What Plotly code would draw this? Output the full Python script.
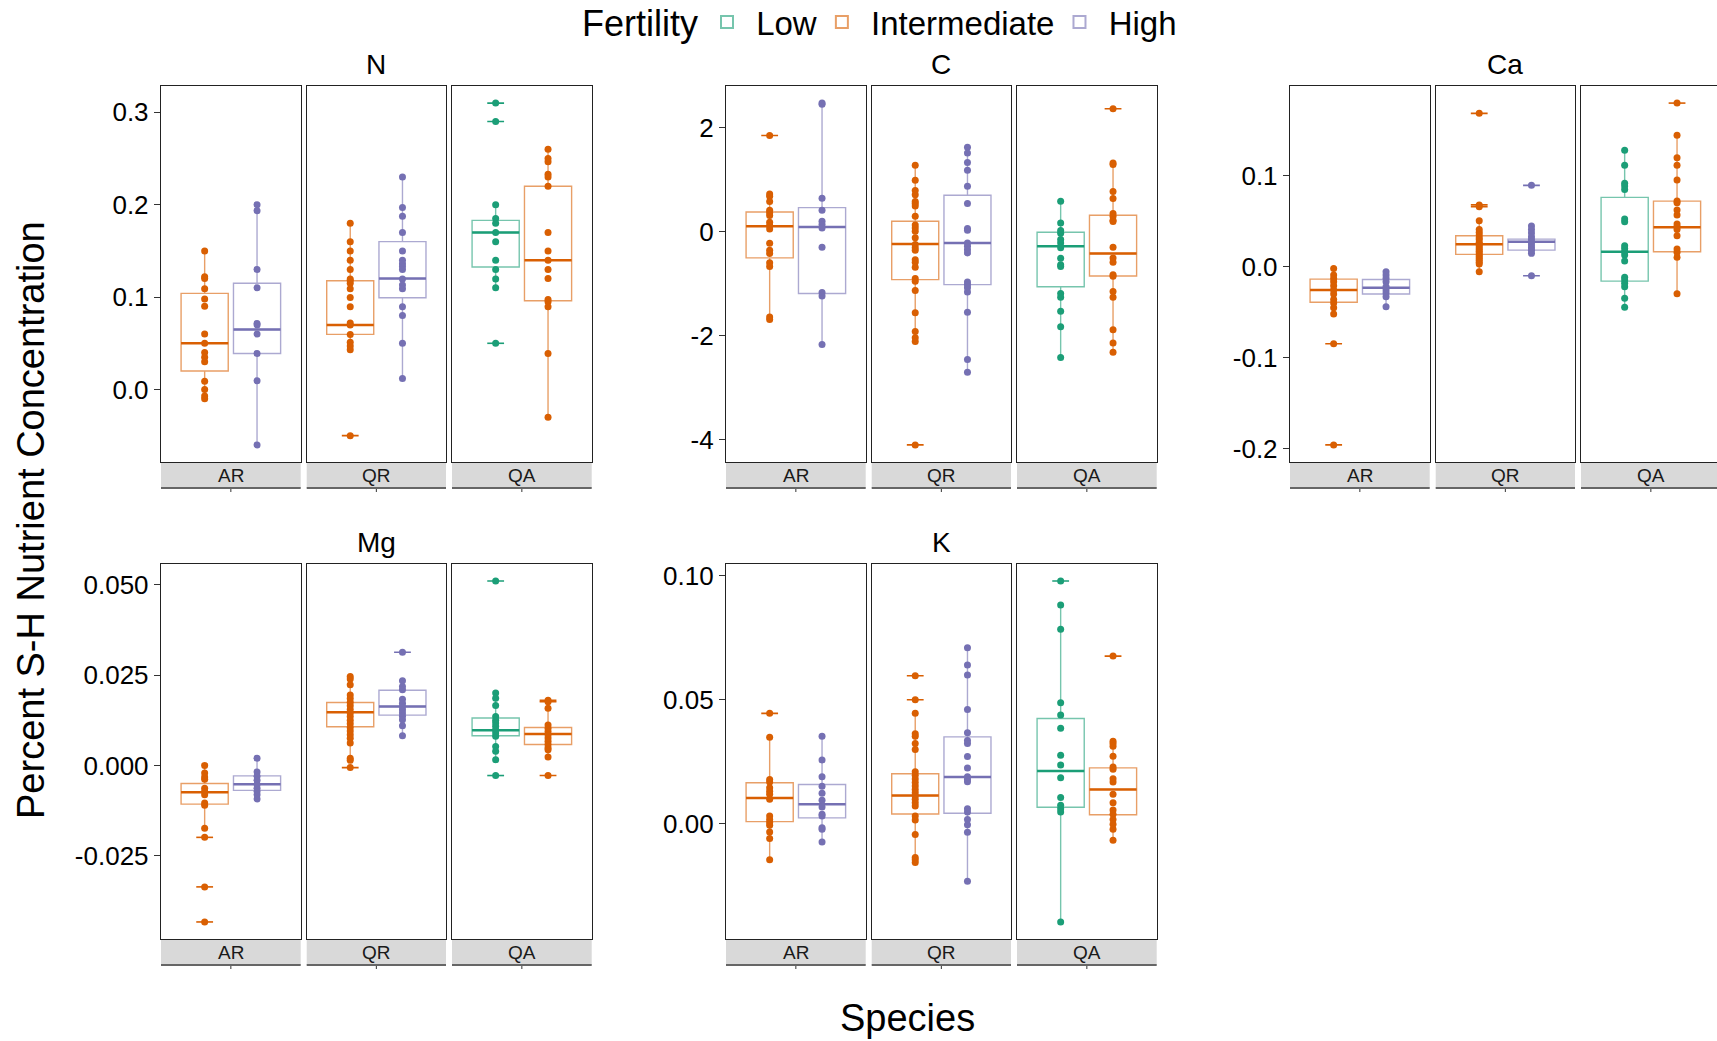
import plotly.graph_objects as go

# ---------------- DATA ----------------
nutrients = ["N", "C", "Ca", "Mg", "K"]
species = ["AR", "QR", "QA"]
fertility_levels = ["Low", "Intermediate", "High"]
species_fertility = {"AR": ["Intermediate", "High"], "QR": ["Intermediate", "High"], "QA": ["Low", "Intermediate"]}

# points; box = [lower whisker, q1, median, q3, upper whisker]
N_AR_I = [0.150, 0.122, 0.120, 0.109, 0.098, 0.090, 0.060, 0.050, 0.040, 0.035, 0.030, 0.009, 0.000, -0.007, -0.010]
N_AR_I_box = [-0.010, 0.020, 0.050, 0.104, 0.150]
N_AR_H = [0.200, 0.1935, 0.130, 0.110, 0.0715, 0.0697, 0.060, 0.039, 0.0094, -0.060]
N_AR_H_box = [-0.060, 0.039, 0.065, 0.115, 0.200]
N_QR_I = [0.180, 0.160, 0.150, 0.140, 0.130, 0.1195, 0.118, 0.115, 0.109, 0.0996, 0.0895, 0.072, 0.0697, 0.0596, 0.051, 0.047, 0.043, -0.050]
N_QR_I_box = [0.043, 0.0596, 0.0697, 0.1177, 0.180]
N_QR_H = [0.230, 0.197, 0.1874, 0.170, 0.150, 0.140, 0.136, 0.133, 0.130, 0.1195, 0.113, 0.109, 0.0895, 0.080, 0.050, 0.012]
N_QR_H_box = [0.012, 0.0993, 0.120, 0.160, 0.230]
N_QA_L = [0.310, 0.290, 0.200, 0.185, 0.180, 0.170, 0.160, 0.140, 0.130, 0.1195, 0.110, 0.050]
N_QA_L_box = [0.110, 0.1325, 0.170, 0.183, 0.200]
N_QA_I = [0.260, 0.250, 0.2466, 0.233, 0.230, 0.220, 0.170, 0.150, 0.140, 0.130, 0.120, 0.0975, 0.095, 0.0895, 0.039, -0.030]
N_QA_I_box = [-0.030, 0.096, 0.140, 0.220, 0.260]

C_AR_I = [1.846, 0.724, 0.68, 0.577, 0.41, 0.36, 0.31, 0.18, 0.115, 0.05, -0.224, -0.36, -0.42, -0.60, -0.67, -1.64, -1.69]
C_AR_I_box = [-1.69, -0.506, 0.103, 0.378, 0.724]
C_AR_H = [2.47, 2.45, 0.64, 0.41, 0.2, 0.135, 0.07, -0.30, -1.17, -1.24, -2.17]
C_AR_H_box = [-2.17, -1.19, 0.09, 0.46, 2.47]
C_QR_I = [1.276, 0.987, 0.79, 0.71, 0.58, 0.54, 0.49, 0.295, 0.128, 0.07, 0.006, -0.12, -0.25, -0.31, -0.36, -0.54,
          -0.59, -0.686, -0.90, -0.955, -1.13, -1.56, -1.92, -2.04, -2.11, -4.10]
C_QR_I_box = [-2.11, -0.923, -0.237, 0.200, 1.276]
C_QR_H = [1.62, 1.51, 1.33, 1.18, 0.87, 0.54, 0.058, 0.026, -0.22, -0.28, -0.35, -0.41, -0.97, -1.02, -1.08, -1.16, -1.55, -2.46, -2.705]
C_QR_H_box = [-2.705, -1.02, -0.218, 0.70, 1.62]
C_QA_L = [0.583, 0.167, 0.02, -0.03, -0.154, -0.22, -0.31, -0.51, -0.635, -0.67, -1.19, -1.26, -1.53, -1.83, -2.42]
C_QA_L_box = [-2.42, -1.06, -0.28, -0.013, 0.583]
C_QA_I = [2.36, 1.32, 1.29, 0.77, 0.635, 0.346, 0.295, 0.218, 0.192, -0.30, -0.506, -0.59, -0.83, -0.86, -1.15, -1.26, -1.885, -2.14, -2.32]
C_QA_I_box = [-2.32, -0.853, -0.42, 0.314, 1.32]

Ca_AR_I = [-0.002, -0.009, -0.013, -0.0165, -0.021, -0.0257, -0.030, -0.036, -0.040, -0.045, -0.052, -0.0847, -0.196]
Ca_AR_I_box = [-0.052, -0.039, -0.0257, -0.0136, -0.002]
Ca_AR_H = [-0.0055, -0.009, -0.0128, -0.0165, -0.022, -0.0257, -0.029, -0.033, -0.044]
Ca_AR_H_box = [-0.044, -0.030, -0.023, -0.014, -0.0055]
Ca_QR_I = [0.1687, 0.068, 0.066, 0.0506, 0.041, 0.038, 0.035, 0.032, 0.030, 0.027, 0.025, 0.023, 0.021, 0.019, 0.017,
           0.015, 0.013, 0.011, 0.009, 0.007, 0.005, 0.003, -0.0055]
Ca_QR_I_box = [-0.0055, 0.0136, 0.0246, 0.034, 0.0506]
Ca_QR_H = [0.0895, 0.0447, 0.041, 0.037, 0.033, 0.030, 0.027, 0.024, 0.021, 0.018, 0.0147, -0.0099]
Ca_QR_H_box = [0.0147, 0.0183, 0.0275, 0.0304, 0.0447]
Ca_QA_L = [0.128, 0.1115, 0.0917, 0.0887, 0.085, 0.0524, 0.0495, 0.023, 0.020, 0.0165, 0.0128, 0.0062, -0.0117, -0.0147,
           -0.0183, -0.022, -0.0348, -0.0447]
Ca_QA_L_box = [-0.0447, -0.0158, 0.0165, 0.0763, 0.128]
Ca_QA_I = [0.180, 0.1445, 0.120, 0.1115, 0.0953, 0.0722, 0.0704, 0.0623, 0.057, 0.047, 0.044, 0.041, 0.034, 0.0194, 0.0158, 0.0103, -0.0297]
Ca_QA_I_box = [-0.0297, 0.0165, 0.0433, 0.0722, 0.1445]

Mg_AR_I = [0.0, -0.0021, -0.0032, -0.0038, -0.0063, -0.0072, -0.0081, -0.0104, -0.011, -0.0174, -0.0199, -0.0336, -0.0433]
Mg_AR_I_box = [-0.0174, -0.0107, -0.0074, -0.0050, 0.0]
Mg_AR_H = [0.002, -0.0018, -0.003, -0.0041, -0.0053, -0.0063, -0.0072, -0.0081, -0.0093]
Mg_AR_H_box = [-0.0093, -0.0069, -0.0052, -0.0029, 0.002]
Mg_QR_I = [0.0246, 0.0239, 0.0223, 0.0195, 0.0185, 0.0175, 0.0165, 0.0155, 0.0145, 0.0135, 0.0125, 0.0115, 0.0105,
           0.0095, 0.0085, 0.0075, 0.0062, 0.002, 0.0014, -0.0006]
Mg_QR_I_box = [0.0014, 0.0107, 0.0147, 0.0174, 0.0246]
Mg_QR_H = [0.0313, 0.0234, 0.0218, 0.0209, 0.0183, 0.0172, 0.0163, 0.0154, 0.0145, 0.0136, 0.0126, 0.011, 0.0082]
Mg_QR_H_box = [0.0082, 0.0139, 0.0163, 0.0208, 0.0234]
Mg_QA_L = [0.051, 0.020, 0.0186, 0.0166, 0.0135, 0.0125, 0.0117, 0.0108, 0.0099, 0.009, 0.0081, 0.0052, 0.0039, 0.0016, -0.0028]
Mg_QA_L_box = [0.0016, 0.0082, 0.0097, 0.0131, 0.020]
Mg_QA_I = [0.018, 0.0176, 0.0158, 0.0112, 0.0103, 0.0094, 0.0085, 0.0076, 0.0067, 0.0058, 0.0049, 0.0043, 0.0023, -0.0028]
Mg_QA_I_box = [0.0023, 0.0058, 0.0087, 0.0105, 0.0158]

K_AR_I = [0.0445, 0.0349, 0.0178, 0.0168, 0.0145, 0.0131, 0.0118, 0.0098, 0.0031, 0.0017, 0.0004, -0.0007, -0.0034, -0.006, -0.0146]
K_AR_I_box = [-0.0146, 0.0008, 0.0103, 0.0165, 0.0349]
K_AR_H = [0.0353, 0.0257, 0.0189, 0.0151, 0.0122, 0.0094, 0.0067, 0.0038, 0.0031, -0.0017, -0.0023, -0.0074]
K_AR_H_box = [-0.0074, 0.0023, 0.0078, 0.0158, 0.0353]
K_QR_I = [0.0597, 0.050, 0.0445, 0.0363, 0.0353, 0.0323, 0.0299, 0.0209, 0.0195, 0.018, 0.0166, 0.0152, 0.0138, 0.0125,
          0.0111, 0.0098, 0.0084, 0.0071, 0.0031, 0.0015, -0.0044, -0.0137, -0.0146, -0.0157]
K_QR_I_box = [-0.0157, 0.0039, 0.0113, 0.0201, 0.0445]
K_QR_H = [0.071, 0.064, 0.060, 0.0461, 0.0367, 0.0335, 0.0323, 0.0271, 0.0224, 0.0189, 0.0178, 0.0169, 0.006, 0.0047,
          0.0017, -0.0005, -0.0035, -0.0233]
K_QR_H_box = [-0.0233, 0.0042, 0.0188, 0.035, 0.071]
K_QA_L = [0.0979, 0.0882, 0.0784, 0.0488, 0.0438, 0.0385, 0.0276, 0.0237, 0.0185, 0.0105, 0.0074, 0.006, 0.0047, -0.0397]
K_QA_L_box = [-0.0397, 0.0066, 0.0212, 0.0424, 0.0882]
K_QA_I = [0.0676, 0.0332, 0.0323, 0.0312, 0.0272, 0.0228, 0.0219, 0.0181, 0.0168, 0.0118, 0.0084, 0.0055, 0.0038,
          0.0017, -0.0003, -0.0023, -0.0067]
K_QA_I_box = [-0.0067, 0.0036, 0.0138, 0.0225, 0.0332]

# y tick values per nutrient
N_ticks = [0.0, 0.1, 0.2, 0.3]
C_ticks = [-4, -2, 0, 2]
Ca_ticks = [-0.2, -0.1, 0.0, 0.1]
Mg_ticks = [-0.025, 0.0, 0.025, 0.05]
K_ticks = [0.0, 0.05, 0.10]
tick_formats = {"N": "{:.1f}", "C": "{:.0f}", "Ca": "{:.1f}", "Mg": "{:.3f}", "K": "{:.2f}"}

points = {
    ("N", "AR", "Intermediate"): (N_AR_I, N_AR_I_box), ("N", "AR", "High"): (N_AR_H, N_AR_H_box),
    ("N", "QR", "Intermediate"): (N_QR_I, N_QR_I_box), ("N", "QR", "High"): (N_QR_H, N_QR_H_box),
    ("N", "QA", "Low"): (N_QA_L, N_QA_L_box), ("N", "QA", "Intermediate"): (N_QA_I, N_QA_I_box),
    ("C", "AR", "Intermediate"): (C_AR_I, C_AR_I_box), ("C", "AR", "High"): (C_AR_H, C_AR_H_box),
    ("C", "QR", "Intermediate"): (C_QR_I, C_QR_I_box), ("C", "QR", "High"): (C_QR_H, C_QR_H_box),
    ("C", "QA", "Low"): (C_QA_L, C_QA_L_box), ("C", "QA", "Intermediate"): (C_QA_I, C_QA_I_box),
    ("Ca", "AR", "Intermediate"): (Ca_AR_I, Ca_AR_I_box), ("Ca", "AR", "High"): (Ca_AR_H, Ca_AR_H_box),
    ("Ca", "QR", "Intermediate"): (Ca_QR_I, Ca_QR_I_box), ("Ca", "QR", "High"): (Ca_QR_H, Ca_QR_H_box),
    ("Ca", "QA", "Low"): (Ca_QA_L, Ca_QA_L_box), ("Ca", "QA", "Intermediate"): (Ca_QA_I, Ca_QA_I_box),
    ("Mg", "AR", "Intermediate"): (Mg_AR_I, Mg_AR_I_box), ("Mg", "AR", "High"): (Mg_AR_H, Mg_AR_H_box),
    ("Mg", "QR", "Intermediate"): (Mg_QR_I, Mg_QR_I_box), ("Mg", "QR", "High"): (Mg_QR_H, Mg_QR_H_box),
    ("Mg", "QA", "Low"): (Mg_QA_L, Mg_QA_L_box), ("Mg", "QA", "Intermediate"): (Mg_QA_I, Mg_QA_I_box),
    ("K", "AR", "Intermediate"): (K_AR_I, K_AR_I_box), ("K", "AR", "High"): (K_AR_H, K_AR_H_box),
    ("K", "QR", "Intermediate"): (K_QR_I, K_QR_I_box), ("K", "QR", "High"): (K_QR_H, K_QR_H_box),
    ("K", "QA", "Low"): (K_QA_L, K_QA_L_box), ("K", "QA", "Intermediate"): (K_QA_I, K_QA_I_box),
}
ticks = {"N": N_ticks, "C": C_ticks, "Ca": Ca_ticks, "Mg": Mg_ticks, "K": K_ticks}

# ---------------- STYLE / LAYOUT ----------------
W, H = 1717, 1041
FONT = "Liberation Sans, Arial, sans-serif"
COL = {"Low": "#1B9E77", "Intermediate": "#D95F02", "High": "#7570B3"}
LIGHT = {"Low": "rgba(27,158,119,0.6)", "Intermediate": "rgba(217,95,2,0.6)", "High": "rgba(117,112,179,0.6)"}
RANK = {"Low": 1, "Intermediate": 2, "High": 3}

group_origin = {"N": (0, 0), "C": (565, 0), "Ca": (1129, 0), "Mg": (0, 1), "K": (565, 1)}
sub_x = [(161, 300.7), (306.7, 446), (452, 591.7)]
row_y = [(86, 462), (564, 939)]
XR = (0.4, 1.6)
DODGE = [0.775, 1.225]
BOXW = 0.405

fig = go.Figure()
layout = dict(width=W, height=H, margin=dict(l=0, r=0, t=0, b=0, autoexpand=False),
              paper_bgcolor="white", plot_bgcolor="white",
              font=dict(family=FONT, color="black"), showlegend=True)
shapes, annotations = [], []
shown_legend = set()

def px(x):
    return x / W

def py(y):
    return 1 - y / H

idx = 0
for nut in nutrients:
    dx, row = group_origin[nut]
    y0, y1 = row_y[row]
    allv = [v for (n, s, f), (pts, bx) in points.items() if n == nut for v in pts]
    lo, hi = min(allv), max(allv)
    pad = 0.05 * (hi - lo)
    yr = [lo - pad, hi + pad]
    tv = ticks[nut]
    tt = [tick_formats[nut].format(v) for v in tv]
    for si, sp in enumerate(species):
        idx += 1
        xa = "x" if idx == 1 else f"x{idx}"
        ya = "y" if idx == 1 else f"y{idx}"
        x0p, x1p = sub_x[si][0] + dx, sub_x[si][1] + dx
        xr = list(XR)
        if x1p > W:
            xr[1] = XR[0] + (XR[1] - XR[0]) * (W - x0p) / (x1p - x0p)
            x1p = W
        layout["xaxis" if idx == 1 else f"xaxis{idx}"] = dict(
            domain=[px(x0p), px(x1p)], range=xr, anchor=ya, showticklabels=False, ticks="",
            showgrid=False, zeroline=False, showline=True, mirror=True, linecolor="#222", linewidth=1.4,
            fixedrange=True)
        ydict = dict(domain=[py(y1), py(y0)], range=yr, anchor=xa, showgrid=False, zeroline=False,
                     showline=True, mirror=True, linecolor="#222", linewidth=1.4, fixedrange=True)
        if si == 0:
            ydict.update(tickmode="array", tickvals=tv, ticktext=tt, ticks="outside", ticklen=6,
                         tickcolor="#333", tickwidth=1.2, tickfont=dict(size=26, color="black", family=FONT))
        else:
            ydict.update(showticklabels=False, ticks="")
        layout["yaxis" if idx == 1 else f"yaxis{idx}"] = ydict

        # strip
        sx0, sx1 = sub_x[si][0] + dx, min(sub_x[si][1] + dx, W)
        sy0 = y1 + 1
        sy1 = y1 + 26
        shapes.append(dict(type="rect", xref="paper", yref="paper", x0=px(sx0), x1=px(sx1), y0=py(sy1), y1=py(sy0),
                           fillcolor="#D9D9D9", line=dict(width=0), layer="below"))
        shapes.append(dict(type="line", xref="paper", yref="paper", x0=px(sx0), x1=px(sx1), y0=py(sy1), y1=py(sy1),
                           line=dict(color="#666", width=2)))
        cx = (sub_x[si][0] + sub_x[si][1]) / 2 + dx
        shapes.append(dict(type="line", xref="paper", yref="paper", x0=px(cx), x1=px(cx), y0=py(sy1 + 1), y1=py(sy1 + 4),
                           line=dict(color="#333", width=1)))
        annotations.append(dict(text=sp, xref="paper", yref="paper", x=px(cx), y=py((sy0 + sy1) / 2),
                                showarrow=False, xanchor="center", yanchor="middle",
                                font=dict(size=19, color="#1A1A1A", family=FONT)))

        for fi, fert in enumerate(species_fertility[sp]):
            pts, bx = points[(nut, sp, fert)]
            lw, q1, med, q3, uw = bx
            pos = DODGE[fi]
            show = fert not in shown_legend
            shown_legend.add(fert)
            fig.add_trace(go.Box(
                x=[pos], q1=[q1], median=[med], q3=[q3], lowerfence=[lw], upperfence=[uw],
                width=BOXW, whiskerwidth=0, boxpoints=False, name="\u00a0" + fert, legendgroup=fert,
                legendrank=RANK[fert], showlegend=show,
                line=dict(color=LIGHT[fert], width=1.4), fillcolor="rgba(255,255,255,0)",
                xaxis=xa, yaxis=ya, hoverinfo="skip"))
            fig.add_trace(go.Scatter(
                x=[pos - BOXW / 2, pos + BOXW / 2], y=[med, med], mode="lines",
                line=dict(color=COL[fert], width=2.5), showlegend=False, xaxis=xa, yaxis=ya, hoverinfo="skip"))
            outl = [v for v in pts if v < lw - 1e-12 or v > uw + 1e-12]
            if outl:
                fig.add_trace(go.Scatter(
                    x=[pos] * len(outl), y=outl, mode="markers",
                    marker=dict(symbol="line-ew", size=12, line=dict(color=COL[fert], width=1.6)),
                    showlegend=False, xaxis=xa, yaxis=ya, hoverinfo="skip"))
            fig.add_trace(go.Scatter(
                x=[pos] * len(pts), y=pts, mode="markers",
                marker=dict(size=7, color=COL[fert]),
                showlegend=False, xaxis=xa, yaxis=ya))

    # facet title
    gx = (sub_x[0][0] + sub_x[2][1]) / 2 + dx
    annotations.append(dict(text=nut, xref="paper", yref="paper", x=px(gx), y=py(y0 - 22),
                            showarrow=False, xanchor="center", yanchor="middle",
                            font=dict(size=28, color="black", family=FONT)))

annotations.append(dict(text="Percent S-H Nutrient Concentration", xref="paper", yref="paper",
                        x=px(31), y=py(520), textangle=-90, showarrow=False, xanchor="center", yanchor="middle",
                        font=dict(size=38, color="black", family=FONT)))
annotations.append(dict(text="Species", xref="paper", yref="paper", x=px(907), y=py(1018),
                        showarrow=False, xanchor="center", yanchor="middle",
                        font=dict(size=38, color="black", family=FONT)))
# legend title
annotations.append(dict(text="Fertility", xref="paper", yref="paper", x=px(700), y=py(24),
                        showarrow=False, xanchor="right", yanchor="middle",
                        font=dict(size=36, color="black", family=FONT)))

layout["shapes"] = shapes
layout["annotations"] = annotations
layout["legend"] = dict(orientation="h", x=px(707), xanchor="left", y=py(22), yanchor="middle",
                        font=dict(size=33, color="black", family=FONT),
                        bgcolor="rgba(0,0,0,0)", itemsizing="constant")
fig.update_layout(**layout)
fig.write_html("out.html")
